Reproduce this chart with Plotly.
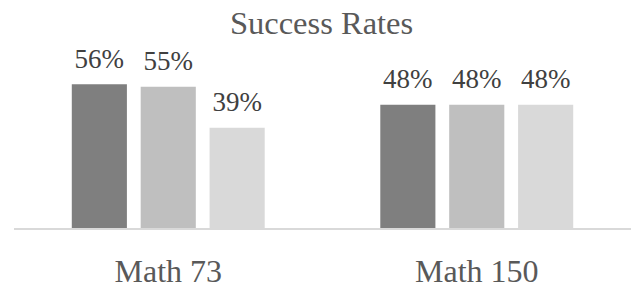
import plotly.graph_objects as go

categories = ["Math 73", "Math 150"]
series_a = [0.56, 0.48]
series_b = [0.55, 0.48]
series_c = [0.39, 0.48]
series_names = ["Series 1", "Series 2", "Series 3"]
colors = ["#7f7f7f", "#bfbfbf", "#d9d9d9"]

FONT = "Liberation Serif"

fig = go.Figure()
all_series = [series_a, series_b, series_c]
for i, (name, vals, col) in enumerate(zip(series_names, all_series, colors)):
    fig.add_trace(go.Bar(
        x=categories, y=vals, name=name,
        marker=dict(color=col, line=dict(width=0)),
        offsetgroup=str(i), hoverinfo="skip",
    ))
for i, (name, vals) in enumerate(zip(series_names, all_series)):
    fig.add_trace(go.Scatter(
        x=categories, y=vals, name=name + " labels",
        mode="markers+text", offsetgroup=str(i),
        marker=dict(size=14, opacity=0),
        text=[f"{v:.0%}" for v in vals],
        textposition="top center",
        textfont=dict(family=FONT, size=27, color="#404040"),
        cliponaxis=False, hoverinfo="skip",
    ))

fig.update_layout(
    width=633, height=282,
    margin=dict(l=14, r=2, t=60, b=54),
    paper_bgcolor="white", plot_bgcolor="white",
    barmode="group", bargap=0.33, bargroupgap=0.2,
    scattermode="group", scattergap=0.33,
    showlegend=False,
    title=dict(text="Success Rates", x=0.508, xanchor="center", y=0.918, yref="container",
               yanchor="middle", font=dict(family=FONT, size=32.5, color="#595959")),
    xaxis=dict(showline=True, linecolor="#d9d9d9", linewidth=2, showgrid=False,
               ticks="outside", ticklen=14, tickcolor="rgba(0,0,0,0)", automargin=False,
               tickfont=dict(family=FONT, size=32, color="#595959")),
    yaxis=dict(visible=False, range=[0, 0.654], showgrid=False, zeroline=False),
)

fig.write_html("out.html", config={"displayModeBar": False},
               post_script="document.body.style.margin='0';")
